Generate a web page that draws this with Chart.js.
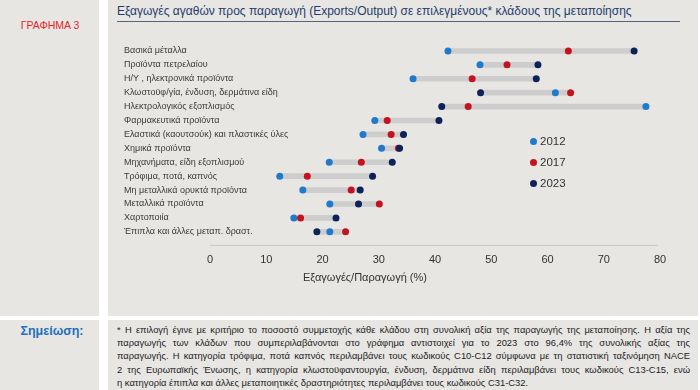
<!DOCTYPE html>
<html>
<head>
<meta charset="utf-8">
<script src="https://cdn.jsdelivr.net/npm/chart.js@4"></script>
<style>
	body { margin: 0; width: 700px; height: 390px; background: #fff; font-family: 'Liberation Sans', Arial, sans-serif; position: relative; overflow: hidden; }
	.panel { position: absolute; background: #e7e6e2; }
	#tag { position: absolute; left: 0; top: 19px; width: 100px; text-align: center; color: #e3262b; font-size: 10.5px; }
	#title { position: absolute; left: 117px; top: 4px; width: 563px; color: #1f3c6e; font-size: 12px; border-bottom: 1px solid #52657f; padding-bottom: 3px; white-space: nowrap; }
	#note-label { position: absolute; left: 0; top: 324px; width: 104px; text-align: center; color: #1f6fbf; font-size: 12.5px; font-weight: bold; }
	#note { position: absolute; left: 117px; top: 323px; width: 573px; font-size: 9.4px; line-height: 13.2px; color: #222; }
	#note div { white-space: nowrap; text-align: justify; text-align-last: justify; }
	#note div:last-child { text-align-last: left; }
	#chart-box { position: absolute; left: 108px; top: 38px; width: 570px; height: 236px; }
	#xtitle { position: absolute; left: 303px; top: 271px; font-size: 11px; color: #333; }
	#legend { position: absolute; left: 530px; top: 133px; font-size: 11.5px; color: #333; }
	#legend div { height: 21px; line-height: 16px; }
	#legend span { display: inline-block; width: 7px; height: 7px; border-radius: 50%; margin-right: 3px; vertical-align: 0px; }
</style>
</head>
<body>
<div class="panel" style="left:0;top:0;width:99px;height:316px"></div>
<div class="panel" style="left:108px;top:0;width:590px;height:316px"></div>
<div class="panel" style="left:0;top:320px;width:99px;height:70px"></div>
<div class="panel" style="left:108px;top:320px;width:590px;height:70px"></div>
<div id="tag">ΓΡΑΦΗΜΑ 3</div>
<div id="title">Εξαγωγές αγαθών προς παραγωγή (Exports/Output) σε επιλεγμένους* κλάδους της μεταποίησης</div>
<div id="chart-box"><canvas id="chart"></canvas></div>
<div id="xtitle">Εξαγωγές/Παραγωγή (%)</div>
<div id="legend"></div>
<div id="note-label">Σημείωση:</div>
<div id="note">
<div>* Η επιλογή έγινε με κριτήριο το ποσοστό συμμετοχής κάθε κλάδου στη συνολική αξία της παραγωγής της μεταποίησης. Η αξία της</div>
<div>παραγωγής των κλάδων που συμπεριλαβάνονται στο γράφημα αντιστοιχεί για το 2023 στο 96,4% της συνολικής αξίας της</div>
<div>παραγωγής. Η κατηγορία τρόφιμα, ποτά καπνός περιλαμβάνει τους κωδικούς C10-C12 σύμφωνα με τη στατιστική ταξινόμηση NACE</div>
<div>2 της Ευρωπαϊκής Ένωσης, η κατηγορία κλωστοϋφαντουργία, ένδυση, δερμάτινα είδη περιλαμβάνει τους κωδικούς C13-C15, ενώ</div>
<div>η κατηγορία έπιπλα και άλλες μεταποιητικές δραστηριότητες περιλαμβάνει τους κωδικούς C31-C32.</div>
</div>
<script>
const sectors = [
	'Βασικά μέταλλα',
	'Προϊόντα πετρελαίου',
	'Η/Υ , ηλεκτρονικά προϊόντα',
	'Κλωστοϋφ/γία, ένδυση, δερμάτινα είδη',
	'Ηλεκτρολογικός εξοπλισμός',
	'Φαρμακευτικά προϊόντα',
	'Ελαστικά (καουτσούκ) και πλαστικές ύλες',
	'Χημικά προϊόντα',
	'Μηχανήματα, είδη εξοπλισμού',
	'Τρόφιμα, ποτά, καπνός',
	'Μη μεταλλικά ορυκτά προϊόντα',
	'Μεταλλικά προϊόντα',
	'Χαρτοποιία',
	'Έπιπλα και άλλες μεταπ. δραστ.',
];
const y2012 = [42.3, 48.0, 36.1, 61.4, 77.5, 29.3, 27.2, 30.5, 21.2, 12.4, 16.5, 21.3, 14.9, 21.3];
const y2017 = [63.7, 52.8, 46.6, 64.1, 45.9, 31.5, 32.2, 33.5, 26.9, 17.3, 25.1, 30.1, 16.1, 24.1];
const y2023 = [75.4, 58.3, 58.0, 48.1, 41.2, 40.7, 34.4, 33.7, 32.4, 28.9, 26.7, 26.4, 22.4, 19.0];
const xTicks = [0, 10, 20, 30, 40, 50, 60, 70, 80];

const COLORS = {
	c2012: '#1f7acc',
	c2017: '#c4121f',
	c2023: '#0c2358',
	range: '#cdcdcd',
	text: '#3a3a3a',
	axis: '#c9c9c9',
};

const ranges = sectors.map((s, i) => {
	const v = [y2012[i], y2017[i], y2023[i]];
	return [Math.min(...v), Math.max(...v)];
});

const series = [
	{ label: '2012', data: y2012, color: COLORS.c2012, order: 3 },
	{ label: '2017', data: y2017, color: COLORS.c2017, order: 2 },
	{ label: '2023', data: y2023, color: COLORS.c2023, order: 1 },
];

document.getElementById('legend').innerHTML = series
	.map(s => '<div><span style="background:' + s.color + '"></span>' + s.label + '</div>')
	.join('');

// axis line sits a little below the last row
const axisLine = {
	id: 'axisLine',
	afterDraw(chart) {
		const x = chart.scales.x;
		const ctx = chart.ctx;
		const yy = Math.round(chart.chartArea.bottom + 6) + 0.5;
		ctx.save();
		ctx.strokeStyle = COLORS.axis;
		ctx.lineWidth = 1;
		ctx.beginPath();
		ctx.moveTo(x.getPixelForValue(0), yy);
		ctx.lineTo(x.getPixelForValue(80) - 2, yy);
		ctx.stroke();
		ctx.restore();
	},
};

const Y_AXIS_W = 86;

new Chart(document.getElementById('chart'), {
	type: 'bar',
	data: {
		labels: sectors,
		datasets: [
			{
				type: 'bar',
				data: ranges,
				backgroundColor: COLORS.range,
				barThickness: 5,
				order: 10,
			},
			...series.map(s => ({
				type: 'line',
				label: s.label,
				data: s.data,
				showLine: false,
				pointRadius: 3.5,
				pointHoverRadius: 3.5,
				pointBorderWidth: 0,
				pointBackgroundColor: s.color,
				backgroundColor: s.color,
				borderColor: s.color,
				order: s.order,
			})),
		],
	},
	plugins: [axisLine],
	options: {
		indexAxis: 'y',
		responsive: true,
		maintainAspectRatio: false,
		animation: false,
		layout: { padding: { top: 6, right: 18, bottom: 0, left: 16 } },
		plugins: {
			legend: { display: false },
			tooltip: { enabled: false },
		},
		scales: {
			x: {
				min: 0,
				max: 80,
				afterBuildTicks: axis => { axis.ticks = xTicks.map(v => ({ value: v })); },
				grid: { display: false },
				border: { display: false },
				ticks: {
					color: '#333',
					font: { family: "'Liberation Sans', Arial, sans-serif", size: 11 },
					padding: 7,
				},
			},
			y: {
				// mirrored + negative padding so the long labels can run into the plot area
				afterFit: axis => { axis.width = Y_AXIS_W; },
				grid: { display: false, drawTicks: false },
				border: { display: false },
				ticks: {
					mirror: true,
					padding: -Y_AXIS_W,
					autoSkip: false,
					color: COLORS.text,
					font: { family: "'Liberation Sans', Arial, sans-serif", size: 9 },
				},
			},
		},
	},
});
</script>
</body>
</html>
